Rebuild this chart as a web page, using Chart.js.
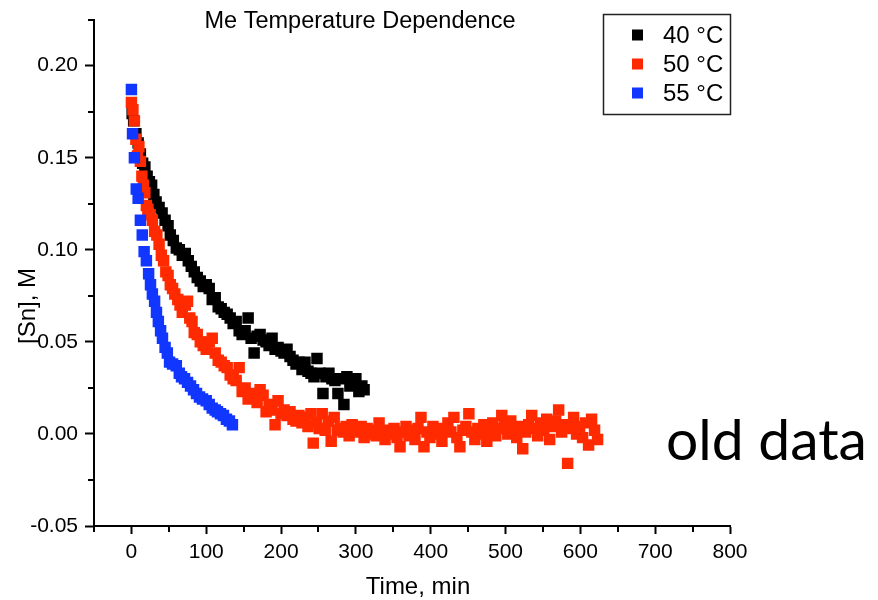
<!DOCTYPE html>
<html>
<head>
<meta charset="utf-8">
<title>Me Temperature Dependence</title>
<script src="https://cdn.jsdelivr.net/npm/chart.js@4.4.1/dist/chart.umd.min.js"></script>
<style>
  html, body { margin: 0; padding: 0; background: #fff; }
  #wrap { width: 878px; height: 600px; }
</style>
</head>
<body>
<div id="wrap"><canvas id="myChart" width="878" height="600"></canvas></div>
<script>
const seriesNames = ['40 °C', '50 °C', '55 °C']
const seriesColors = ['#000000', '#ff2a00', '#1036ff']

// 40 °C
const t40 = [1, 3, 6, 9, 12, 15, 18, 21, 24, 27,
  30, 33, 37, 41, 45, 49, 52, 56, 60, 64,
  68, 72, 76, 80, 84, 88, 92, 96, 100, 104,
  108, 112, 116, 120, 124, 128, 132, 136, 140, 144,
  148, 152, 156, 160, 164, 168, 172, 176, 180, 184,
  188, 192, 196, 200, 204, 208, 212, 216, 220, 224,
  228, 232, 236, 240, 244, 248, 252, 256, 260, 264,
  268, 272, 276, 280, 284, 288, 292, 296, 300, 304,
  308, 311]
const v40 = [0.174, 0.170, 0.163, 0.158, 0.152, 0.147, 0.145, 0.140, 0.137, 0.135,
  0.130, 0.126, 0.123, 0.120, 0.116, 0.113, 0.108, 0.105, 0.101, 0.100,
  0.097, 0.098, 0.094, 0.091, 0.088, 0.085, 0.083, 0.080, 0.081, 0.079,
  0.073, 0.074, 0.069, 0.068, 0.066, 0.065, 0.063, 0.060, 0.061, 0.056,
  0.054, 0.056, 0.063, 0.052, 0.044, 0.053, 0.054, 0.051, 0.050, 0.048,
  0.052, 0.046, 0.047, 0.045, 0.044, 0.046, 0.042, 0.040, 0.038, 0.039,
  0.035, 0.039, 0.034, 0.033, 0.031, 0.041, 0.033, 0.022, 0.031, 0.033,
  0.030, 0.029, 0.022, 0.030, 0.016, 0.031, 0.026, 0.028, 0.030, 0.023,
  0.026, 0.024]

// 50 °C
const t50 = [0, 2, 4, 6, 8, 10, 12, 14, 16, 18,
  20, 22, 25, 28, 31, 34, 37, 40, 43, 46,
  49, 52, 55, 58, 62, 65, 68, 72, 75, 78,
  81, 84, 88, 92, 96, 100, 104, 108, 112, 116,
  120, 124, 128, 132, 136, 140, 144, 148, 152, 156,
  160, 164, 168, 172, 176, 180, 184, 188, 192, 196,
  200, 204, 208, 212, 216, 220, 224, 228, 232, 236,
  240, 243, 247, 251, 255, 259, 263, 267, 271, 275,
  279, 283, 287, 291, 295, 299, 303, 307, 311, 315,
  319, 323, 327, 331, 335, 339, 343, 347, 351, 355,
  359, 363, 367, 371, 375, 379, 383, 387, 391, 395,
  399, 403, 407, 411, 415, 419, 423, 427, 431, 435,
  439, 443, 447, 451, 455, 459, 463, 467, 471, 475,
  479, 483, 487, 491, 495, 499, 503, 507, 511, 515,
  519, 523, 527, 531, 535, 539, 543, 547, 551, 555,
  559, 563, 567, 571, 575, 579, 583, 587, 591, 595,
  599, 603, 607, 611, 615, 619, 623]
const v50 = [0.180, 0.176, 0.170, 0.160, 0.151, 0.156, 0.148, 0.140, 0.135, 0.131,
  0.124, 0.122, 0.119, 0.116, 0.110, 0.108, 0.103, 0.097, 0.094, 0.088,
  0.086, 0.081, 0.079, 0.076, 0.073, 0.070, 0.066, 0.070, 0.072, 0.063,
  0.061, 0.055, 0.054, 0.050, 0.048, 0.046, 0.050, 0.052, 0.044, 0.040,
  0.039, 0.037, 0.036, 0.032, 0.030, 0.029, 0.036, 0.023, 0.025, 0.019,
  0.022, 0.020, 0.017, 0.024, 0.021, 0.012, 0.016, 0.013, 0.005, 0.018,
  0.011, 0.013, 0.010, 0.012, 0.008, 0.007, 0.010, 0.006, 0.009, 0.004,
  0.011, -0.005, 0.006, 0.003, 0.011, 0.002, 0.007, -0.004, 0.009, 0.002,
  0.003, 0.001, 0.004, -0.001, 0.005, 0.002, 0.001, 0.004, -0.002, 0.003,
  0.000, 0.002, -0.001, 0.006, 0.001, -0.003, 0.002, 0.000, 0.003, -0.002,
  -0.007, 0.001, 0.004, -0.001, 0.002, -0.003, 0.003, 0.009, -0.007, 0.001,
  -0.002, 0.004, 0.000, 0.003, -0.004, 0.002, 0.006, 0.001, 0.009, -0.002,
  -0.007, 0.002, 0.004, 0.011, 0.001, -0.003, 0.003, 0.000, 0.005, -0.004,
  0.002, 0.006, -0.001, 0.003, 0.010, 0.004, 0.000, 0.007, 0.002, -0.002,
  0.004, -0.008, 0.001, 0.005, 0.010, 0.003, -0.001, 0.006, 0.002, 0.008,
  -0.003, 0.004, 0.007, 0.013, 0.001, 0.005, -0.016, 0.003, 0.009, 0.000,
  0.004, -0.002, 0.006, -0.006, 0.008, 0.002, -0.003]

// 55 °C
const t55 = [0, 1.5, 4, 6.5, 9, 12, 14.5, 17, 20, 23,
  25.5, 28, 31, 33.5, 36, 39, 41.5, 45, 48, 51,
  55, 60, 64, 67, 71, 75, 79, 83, 87, 91,
  95, 100, 104, 108, 112, 115, 119, 123, 127, 131,
  135]
const v55 = [0.187, 0.163, 0.150, 0.133, 0.128, 0.116, 0.108, 0.099, 0.094, 0.087,
  0.081, 0.076, 0.072, 0.066, 0.061, 0.056, 0.052, 0.047, 0.044, 0.039,
  0.038, 0.037, 0.033, 0.031, 0.030, 0.028, 0.026, 0.024, 0.022, 0.020,
  0.019, 0.018, 0.016, 0.014, 0.013, 0.012, 0.011, 0.010, 0.008, 0.007,
  0.005]

const xMin = -50, xMax = 800, xStep = 50, xMajor = 100
const yMin = -0.05, yMax = 0.225, yStep = 0.025, yMajor = 0.05

const FONT = '"Liberation Sans", Arial, sans-serif'

function toPoints (ts, vs) {
  return ts.map((t, i) => ({ x: t, y: vs[i] }))
}

function isMajor (v, step) {
  const r = v / step
  return Math.abs(r - Math.round(r)) < 1e-6
}

// minor ticks, title, axis titles, legend box and the "old data" note
const decor = {
  id: 'decor',
  afterDraw (chart) {
    const { ctx, scales: { x, y } } = chart
    ctx.save()
    ctx.strokeStyle = '#000'
    ctx.lineWidth = 2
    ctx.beginPath()
    x.ticks.forEach(t => {
      if (isMajor(t.value, xMajor)) return
      const px = Math.round(x.getPixelForValue(t.value))
      ctx.moveTo(px, x.top)
      ctx.lineTo(px, x.top + 6)
    })
    y.ticks.forEach(t => {
      if (isMajor(t.value, yMajor)) return
      const py = Math.round(y.getPixelForValue(t.value))
      ctx.moveTo(y.right, py)
      ctx.lineTo(y.right - 6, py)
    })
    ctx.stroke()

    ctx.fillStyle = '#000'
    ctx.textAlign = 'center'
    ctx.textBaseline = 'middle'
    ctx.font = '23.5px ' + FONT
    ctx.fillText('Me Temperature Dependence', 360, 22)

    ctx.font = '24px ' + FONT
    ctx.fillText('Time, min', 418, 587)
    ctx.save()
    ctx.translate(28, 306)
    ctx.rotate(-Math.PI / 2)
    ctx.fillText('[Sn], M', 0, 0)
    ctx.restore()

    // legend
    ctx.strokeStyle = '#222'
    ctx.lineWidth = 1.5
    ctx.strokeRect(603.5, 14.5, 127, 100)
    ctx.textAlign = 'left'
    ctx.font = '24px ' + FONT
    seriesNames.forEach((name, i) => {
      const cy = 35 + i * 29
      ctx.fillStyle = seriesColors[i]
      ctx.fillRect(632, cy - 5.5, 11, 11)
      ctx.fillStyle = '#000'
      ctx.fillText(name, 663, cy + 1)
    })

    ctx.textBaseline = 'alphabetic'
    ctx.font = '57px Lato, "Open Sans", sans-serif'
    ctx.fillText('old data', 666, 460)
    ctx.restore()
  }
}

const ctx = document.getElementById('myChart')

const config = {
  type: 'scatter',
  data: {
    datasets: [
      { label: seriesNames[0], data: toPoints(t40, v40), backgroundColor: seriesColors[0], order: 3 },
      { label: seriesNames[1], data: toPoints(t50, v50), backgroundColor: seriesColors[1], order: 2 },
      { label: seriesNames[2], data: toPoints(t55, v55), backgroundColor: seriesColors[2], order: 1 }
    ]
  },
  options: {
    responsive: false,
    animation: false,
    events: [],
    elements: {
      point: { pointStyle: 'rect', radius: 8.1, borderWidth: 0, hoverRadius: 8.1 }
    },
    layout: { padding: { top: 15, right: 148, left: 0, bottom: 0 } },
    plugins: {
      legend: { display: false },
      title: { display: false },
      tooltip: { enabled: false }
    },
    scales: {
      x: {
        type: 'linear',
        min: xMin,
        max: xMax,
        afterFit: (scale) => { scale.height = 74 },
        border: { display: true, color: '#000', width: 2 },
        grid: {
          drawOnChartArea: false,
          tickLength: 8,
          tickWidth: 2,
          tickColor: (c) => isMajor(c.tick.value, xMajor) ? '#000' : 'rgba(0,0,0,0)'
        },
        ticks: {
          stepSize: xStep,
          autoSkip: false,
          maxRotation: 0,
          padding: 6,
          color: '#000',
          font: { family: FONT, size: 21 },
          callback: (v) => isMajor(v, xMajor) ? String(Math.round(v)) : ''
        }
      },
      y: {
        type: 'linear',
        min: yMin,
        max: yMax,
        afterFit: (scale) => { scale.width = 94 },
        border: { display: true, color: '#000', width: 2 },
        grid: {
          drawOnChartArea: false,
          tickLength: 9,
          tickWidth: 2,
          tickColor: (c) => isMajor(c.tick.value, yMajor) ? '#000' : 'rgba(0,0,0,0)'
        },
        ticks: {
          stepSize: yStep,
          autoSkip: false,
          padding: 7,
          color: '#000',
          font: { family: FONT, size: 21 },
          callback: (v) => {
            if (!isMajor(v, yMajor)) return ''
            if (Math.abs(v) < 1e-9) return '0.00'
            return v.toFixed(2)
          }
        }
      }
    }
  },
  plugins: [decor]
}

const chart = new Chart(ctx, config)
</script>
</body>
</html>
